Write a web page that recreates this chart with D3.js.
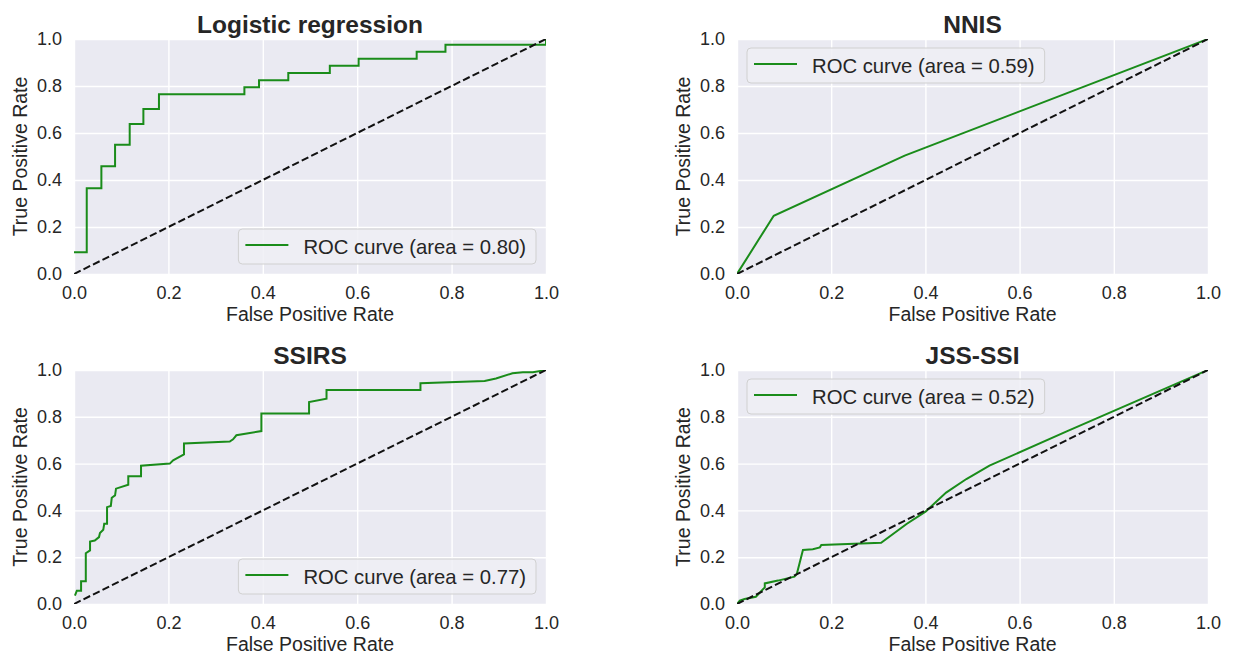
<!DOCTYPE html>
<html>
<head>
<meta charset="utf-8">
<script src="https://cdn.jsdelivr.net/npm/d3@7"></script>
<style>
  body { margin: 0; background: #fff; }
  svg { display: block; font-family: "Liberation Sans", Arial, sans-serif; }
</style>
</head>
<body>
<svg id="chart" width="1233" height="657"></svg>
<script>
// ROC curve points
var lrFpr = [0, 0.027, 0.027, 0.058, 0.058, 0.087, 0.087, 0.118, 0.118, 0.147, 0.147, 0.18, 0.18,
             0.361, 0.361, 0.392, 0.392, 0.454, 0.454, 0.542, 0.542, 0.603, 0.603, 0.726, 0.726,
             0.787, 0.787, 1.0, 1.0];
var lrTpr = [0.093, 0.093, 0.365, 0.365, 0.459, 0.459, 0.55, 0.55, 0.638, 0.638, 0.702, 0.702, 0.765,
             0.765, 0.795, 0.795, 0.825, 0.825, 0.855, 0.855, 0.886, 0.886, 0.916, 0.916, 0.946,
             0.946, 0.976, 0.976, 1.0];

var nnisFpr = [0, 0.078, 0.356, 1.0];
var nnisTpr = [0, 0.248, 0.504, 1.0];

var ssirsFpr = [0.002, 0.006, 0.015, 0.015, 0.025, 0.025, 0.034, 0.034, 0.044, 0.053, 0.055, 0.062,
                0.064, 0.070, 0.070, 0.078, 0.080, 0.087, 0.089, 0.115, 0.115, 0.142, 0.142, 0.203,
                0.210, 0.233, 0.233, 0.330, 0.337, 0.344, 0.397, 0.397, 0.498, 0.498, 0.535, 0.535,
                0.734, 0.734, 0.870, 0.894, 0.929, 0.951, 0.972, 1.0];
var ssirsTpr = [0.036, 0.057, 0.057, 0.097, 0.097, 0.217, 0.229, 0.267, 0.271, 0.286, 0.303, 0.317,
                0.343, 0.343, 0.414, 0.419, 0.454, 0.464, 0.493, 0.51, 0.546, 0.546, 0.591, 0.6,
                0.614, 0.639, 0.686, 0.694, 0.704, 0.721, 0.739, 0.814, 0.814, 0.863, 0.877, 0.914,
                0.914, 0.943, 0.953, 0.964, 0.986, 0.99, 0.99, 1.0];

var jssFpr = [0, 0.006, 0.016, 0.040, 0.059, 0.059, 0.087, 0.122, 0.127, 0.140, 0.161, 0.176, 0.179,
              0.306, 0.360, 0.401, 0.444, 0.487, 0.536, 0.70, 1.0];
var jssTpr = [0, 0.014, 0.021, 0.031, 0.071, 0.088, 0.100, 0.117, 0.128, 0.231, 0.234, 0.242, 0.252,
              0.262, 0.342, 0.396, 0.476, 0.534, 0.591, 0.738, 1.0];

var titles = ["Logistic regression", "NNIS", "SSIRS", "JSS-SSI"];
var aucs = ["0.80", "0.59", "0.77", "0.52"];
var ticks = [0, 0.2, 0.4, 0.6, 0.8, 1.0];

var fprs = [lrFpr, nnisFpr, ssirsFpr, jssFpr],
    tprs = [lrTpr, nnisTpr, ssirsTpr, jssTpr];

var boxes = [
  {left: 74, top: 39, width: 472, height: 235, legend: "lower right"},
  {left: 737, top: 39, width: 471, height: 235, legend: "upper left"},
  {left: 74, top: 370, width: 472, height: 234, legend: "lower right"},
  {left: 737, top: 370, width: 471, height: 234, legend: "upper left"}
];

var ink = "#262626",
    green = "#1a8c1a";

var svg = d3.select("#chart");

boxes.forEach(function (b, i) {
  var x = d3.scaleLinear().domain([0, 1]).range([0, b.width]),
      y = d3.scaleLinear().domain([0, 1]).range([b.height, 0]);

  var g = svg.append("g").attr("transform", "translate(" + b.left + "," + b.top + ")");

  g.append("clipPath").attr("id", "clip" + i)
    .append("rect").attr("width", b.width).attr("height", b.height);

  g.append("rect")
      .attr("width", b.width)
      .attr("height", b.height)
      .attr("fill", "#eaeaf2");

  // axes, then restyle them seaborn-like
  var xa = g.append("g")
      .attr("transform", "translate(0," + b.height + ")")
      .call(d3.axisBottom(x).tickValues(ticks).tickFormat(d3.format(".1f")).tickSize(-b.height).tickPadding(12));
  var ya = g.append("g")
      .call(d3.axisLeft(y).tickValues(ticks).tickFormat(d3.format(".1f")).tickSize(-b.width).tickPadding(12));

  [xa, ya].forEach(function (a) {
    a.select(".domain").remove();
    a.selectAll(".tick line").attr("stroke", "#fff").attr("stroke-width", 1.4);
    a.selectAll(".tick text").attr("fill", ink).style("font-size", "18px");
  });
  xa.selectAll(".tick text").attr("dy", "0.71em");

  var line = d3.line()
      .x(function (d) { return x(d[0]); })
      .y(function (d) { return y(d[1]); });

  var pts = d3.zip(fprs[i], tprs[i]);

  var plot = g.append("g").attr("clip-path", "url(#clip" + i + ")");
  plot.append("path")
      .datum(pts)
      .attr("fill", "none")
      .attr("stroke", green)
      .attr("stroke-width", 2)
      .attr("d", line);
  plot.append("path")
      .datum([[0, 0], [1, 1]])
      .attr("fill", "none")
      .attr("stroke", "#111")
      .attr("stroke-width", 2)
      .attr("stroke-dasharray", "7.4,3.2")
      .attr("d", line);

  g.append("text")
      .attr("x", b.width / 2)
      .attr("y", -6)
      .attr("text-anchor", "middle")
      .attr("fill", ink)
      .style("font-size", "24.5px")
      .style("font-weight", "bold")
      .text(titles[i]);

  g.append("text")
      .attr("x", b.width / 2)
      .attr("y", b.height + 47)
      .attr("text-anchor", "middle")
      .attr("fill", ink)
      .style("font-size", "19.5px")
      .text("False Positive Rate");

  g.append("text")
      .attr("transform", "translate(-47," + (b.height / 2) + ") rotate(-90)")
      .attr("text-anchor", "middle")
      .attr("fill", ink)
      .style("font-size", "19.5px")
      .text("True Positive Rate");

  // legend
  var lg = g.append("g");
  var frame = lg.append("rect")
      .attr("rx", 4)
      .attr("fill", "#eeeef4")
      .attr("fill-opacity", 0.85)
      .attr("stroke", "#d0d0d0")
      .attr("stroke-width", 1);
  lg.append("line")
      .attr("x1", 7).attr("x2", 50)
      .attr("y1", 16).attr("y2", 16)
      .attr("stroke", green)
      .attr("stroke-width", 2);
  var label = lg.append("text")
      .attr("x", 65)
      .attr("y", 25)
      .attr("fill", ink)
      .style("font-size", "20.3px")
      .text("ROC curve (area = " + aucs[i] + ")");

  var lw = 65 + label.node().getComputedTextLength() + 10,
      lh = 35;
  frame.attr("width", lw).attr("height", lh);
  if (b.legend === "lower right") {
    lg.attr("transform", "translate(" + (b.width - 10 - lw) + "," + (b.height - 10 - lh) + ")");
  } else {
    lg.attr("transform", "translate(10,9)");
  }
});
</script>
</body>
</html>
